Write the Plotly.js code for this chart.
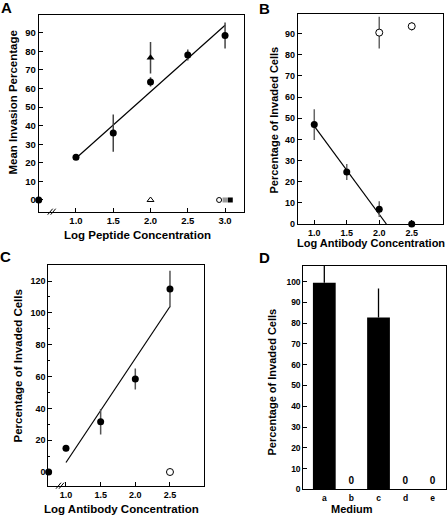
<!DOCTYPE html>
<html>
<head>
<meta charset="utf-8">
<script src="https://cdn.plot.ly/plotly-3.0.1.min.js"></script>
<style>html,body{margin:0;padding:0;background:#fff;}#chart{width:448px;height:516px;}</style>
</head>
<body>
<div id="chart"></div>
<script>
// ---------- Panel A data ----------
const aX = [1.0, 1.5, 2.0, 2.5, 3.0];
const aY = [23, 36, 63.5, 78, 88.5];
const aErr = [1, 10, 2.5, 3, 7];
const aTriX = [2.0];
const aTriY = [76.5];
const aTriErr = [8.5];
const aFitX = [1.0, 3.0];
const aFitY = [22.5, 94];
const aZeroFilledX = [0.5];
const aZeroFilledY = [0];
const aZeroTriX = [2.0];
const aZeroTriY = [0];
const aZeroOpenX = [2.92];
const aZeroOpenY = [0];
const aZeroGrayX = [3.0];
const aZeroGrayY = [0];
const aZeroBlackX = [3.07];
const aZeroBlackY = [0];
const aXTicks = [1.0, 1.5, 2.0, 2.5, 3.0];
const aXTickText = ['1.0', '1.5', '2.0', '2.5', '3.0'];
const aYTicks = [0, 10, 20, 30, 40, 50, 60, 70, 80, 90];

// ---------- Panel B data ----------
const bX = [1.0, 1.5, 2.0, 2.5];
const bY = [47, 24.6, 7, 0];
const bErr = [7.3, 3.8, 3.7, 0];
const bOpenX = [2.0, 2.5];
const bOpenY = [90.5, 93.5];
const bOpenErr = [7.5, 2];
const bFitX = [1.0, 2.11];
const bFitY = [46.3, 0];
const bXTicks = [1.0, 1.5, 2.0, 2.5];
const bXTickText = ['1.0', '1.5', '2.0', '2.5'];
const bYTicks = [0, 10, 20, 30, 40, 50, 60, 70, 80, 90];

// ---------- Panel C data ----------
const cX = [1.0, 1.5, 2.0, 2.5];
const cY = [15, 31.6, 58.5, 115];
const cErr = [2, 8, 6.6, 11.5];
const cZeroFilledX = [0.75];
const cZeroFilledY = [0];
const cOpenX = [2.5];
const cOpenY = [0];
const cFitX = [1.0, 2.5];
const cFitY = [6, 104];
const cXTicks = [1.0, 1.5, 2.0, 2.5];
const cXTickText = ['1.0', '1.5', '2.0', '2.5'];
const cYTicks = [0, 20, 40, 60, 80, 100, 120];

// ---------- Panel D data ----------
const dCats = ['a', 'b', 'c', 'd', 'e'];
const dVals = [99.5, 0, 82.7, 0, 0];
const dErrPlus = [10, 0, 14, 0, 0];
const dLabels = ['', '0', '', '0', '0'];
const dYTicks = [0, 10, 20, 30, 40, 50, 60, 70, 80, 90, 100];

const FONT = 'Liberation Sans, Arial, Helvetica, sans-serif';
const W = 448, H = 516;
const px = v => v / W;
const py = v => 1 - v / H;
const bold = v => '<b>' + v + '</b>';

function axisBase(domain, range, anchor, size) {
  return {
    domain: domain, range: range, anchor: anchor,
    showline: true, mirror: true, linecolor: '#000', linewidth: 1,
    ticks: 'inside', ticklen: 4, tickwidth: 1, tickcolor: '#000',
    showgrid: false, zeroline: false,
    tickfont: {family: FONT, size: size, color: '#000', weight: 700},
    fixedrange: true
  };
}

const errStyle = {type: 'data', thickness: 1.5, width: 0, color: '#444'};

const traces = [
  // ---- A ----
  {x: aFitX, y: aFitY, xaxis: 'x', yaxis: 'y', mode: 'lines', line: {color: '#000', width: 1.2}, showlegend: false, hoverinfo: 'skip'},
  {x: aX, y: aY, xaxis: 'x', yaxis: 'y', mode: 'markers', marker: {color: '#000', size: 7},
   error_y: Object.assign({array: aErr}, errStyle), showlegend: false, cliponaxis: false},
  {x: aTriX, y: aTriY, xaxis: 'x', yaxis: 'y', mode: 'markers', marker: {color: '#000', size: 7, symbol: 'triangle-up'},
   error_y: Object.assign({array: aTriErr}, errStyle), showlegend: false, cliponaxis: false},
  {x: aZeroFilledX, y: aZeroFilledY, xaxis: 'x', yaxis: 'y', mode: 'markers', marker: {color: '#000', size: 7}, showlegend: false, cliponaxis: false},
  {x: aZeroTriX, y: aZeroTriY, xaxis: 'x', yaxis: 'y', mode: 'markers', marker: {color: '#000', size: 6, symbol: 'triangle-up-open', line: {width: 1}}, showlegend: false, cliponaxis: false},
  {x: aZeroOpenX, y: aZeroOpenY, xaxis: 'x', yaxis: 'y', mode: 'markers', marker: {color: '#000', size: 5, symbol: 'circle-open', line: {width: 1}}, showlegend: false, cliponaxis: false},
  {x: aZeroGrayX, y: aZeroGrayY, xaxis: 'x', yaxis: 'y', mode: 'markers', marker: {color: '#999', size: 5, symbol: 'square'}, showlegend: false, cliponaxis: false},
  {x: aZeroBlackX, y: aZeroBlackY, xaxis: 'x', yaxis: 'y', mode: 'markers', marker: {color: '#000', size: 5, symbol: 'square'}, showlegend: false, cliponaxis: false},
  // ---- B ----
  {x: bFitX, y: bFitY, xaxis: 'x2', yaxis: 'y2', mode: 'lines', line: {color: '#000', width: 1.2}, showlegend: false, hoverinfo: 'skip'},
  {x: bX, y: bY, xaxis: 'x2', yaxis: 'y2', mode: 'markers', marker: {color: '#000', size: 7},
   error_y: Object.assign({array: bErr}, errStyle, {color: '#666'}), showlegend: false, cliponaxis: false},
  {x: bOpenX, y: bOpenY, xaxis: 'x2', yaxis: 'y2', mode: 'markers', marker: {color: '#fff', size: 7, symbol: 'circle', line: {color: '#000', width: 1}},
   error_y: Object.assign({array: bOpenErr}, errStyle, {color: '#666'}), showlegend: false, cliponaxis: false},
  // ---- C ----
  {x: cFitX, y: cFitY, xaxis: 'x3', yaxis: 'y3', mode: 'lines', line: {color: '#000', width: 1.2}, showlegend: false, hoverinfo: 'skip'},
  {x: cX, y: cY, xaxis: 'x3', yaxis: 'y3', mode: 'markers', marker: {color: '#000', size: 7},
   error_y: Object.assign({array: cErr}, errStyle, {color: '#555'}), showlegend: false, cliponaxis: false},
  {x: cZeroFilledX, y: cZeroFilledY, xaxis: 'x3', yaxis: 'y3', mode: 'markers', marker: {color: '#000', size: 7}, showlegend: false, cliponaxis: false},
  {x: cOpenX, y: cOpenY, xaxis: 'x3', yaxis: 'y3', mode: 'markers', marker: {color: '#fff', size: 7, symbol: 'circle', line: {color: '#000', width: 1}}, showlegend: false, cliponaxis: false},
  // ---- D ----
  {x: dCats, y: dVals, xaxis: 'x4', yaxis: 'y4', type: 'bar', width: 0.84,
   marker: {color: '#000', line: {width: 0}},
   error_y: {type: 'data', symmetric: false, array: dErrPlus, arrayminus: [0, 0, 0, 0, 0], thickness: 1.3, width: 0, color: '#000'},
   text: dLabels.map(t => t ? bold(t) : ''), textposition: 'outside', textfont: {family: FONT, size: 10, color: '#000', weight: 700},
   showlegend: false, cliponaxis: true}
];

const xA = axisBase([px(38.7), px(243.7)], [0.5, 3.25], 'y', 9.5);
xA.tickvals = aXTicks; xA.ticktext = aXTickText.map(bold);
const yA = axisBase([py(211.7), py(14.7)], [-6.3, 99.7], 'x', 9.5);
yA.tickvals = aYTicks; yA.ticktext = aYTicks.map(bold);

const xB = axisBase([px(297.7), px(443.3)], [0.745, 2.986], 'y2', 9);
xB.tickvals = bXTicks; xB.ticktext = bXTickText.map(bold);
const yB = axisBase([py(224), py(14)], [0, 99.3], 'x2', 9);
yB.tickvals = bYTicks; yB.ticktext = bYTicks.map(bold);

const xC = axisBase([px(48.3), px(204.3)], [0.745, 2.995], 'y3', 9);
xC.tickvals = cXTicks; xC.ticktext = cXTickText.map(bold);
const yC = axisBase([py(485.7), py(265.3)], [-8.6, 129.9], 'x3', 9);
yC.tickvals = cYTicks; yC.ticktext = cYTicks.map(bold);
yC.minor = {ticks: 'inside', ticklen: 2, dtick: 10, tickcolor: '#000'};

const xD = axisBase([px(303.3), px(446)], [-0.775, 4.49], 'y4', 8.5);
xD.ticks = ''; xD.type = 'category';
xD.tickvals = dCats; xD.ticktext = dCats.map(bold);
const yD = axisBase([py(489.3), py(265.7)], [0, 107.7], 'x4', 8.5);
yD.tickvals = dYTicks; yD.ticktext = dYTicks.map(bold);

function ann(text, x, y, size, angle) {
  return {text: bold(text), xref: 'paper', yref: 'paper', x: px(x), y: py(y), xanchor: 'center', yanchor: 'middle',
          showarrow: false, textangle: angle || 0, font: {family: FONT, size: size, color: '#000', weight: 700}};
}

function brk(x, y) {
  return [
    {type: 'line', xref: 'paper', yref: 'paper', x0: px(x - 4), y0: py(y + 3), x1: px(x + 1), y1: py(y - 3), line: {color: '#000', width: 1}},
    {type: 'line', xref: 'paper', yref: 'paper', x0: px(x - 1), y0: py(y + 3), x1: px(x + 4), y1: py(y - 3), line: {color: '#000', width: 1}}
  ];
}

const layout = {
  width: W, height: H,
  margin: {l: 0, r: 0, t: 0, b: 0},
  paper_bgcolor: '#fff', plot_bgcolor: '#fff',
  showlegend: false,
  font: {family: FONT, color: '#000'},
  xaxis: xA, yaxis: yA,
  xaxis2: xB, yaxis2: yB,
  xaxis3: xC, yaxis3: yC,
  xaxis4: xD, yaxis4: yD,
  bargap: 0.16,
  shapes: [].concat(brk(51.7, 211.7), brk(60, 485.7)),
  annotations: [
    ann('A', 6, 7.5, 15),
    ann('B', 264, 8.5, 15),
    ann('C', 5.5, 256.5, 15),
    ann('D', 264, 257.5, 15),
    ann('Mean Invasion Percentage', 12, 102.5, 11.5, -90),
    ann('Log Peptide Concentration', 137, 235.5, 11.5),
    ann('Percentage of Invaded Cells', 273.5, 120, 11, -90),
    ann('Log Antibody Concentration', 370.5, 243, 11),
    ann('Percentage of Invaded Cells', 17, 366.5, 11.5, -90),
    ann('Log Antibody Concentration', 121, 509, 11.5),
    ann('Percentage of Invaded Cells', 271.5, 382, 11, -90),
    ann('Medium', 351.5, 508.5, 11)
  ]
};

Plotly.newPlot('chart', traces, layout, {staticPlot: true, displayModeBar: false});
</script>
</body>
</html>
